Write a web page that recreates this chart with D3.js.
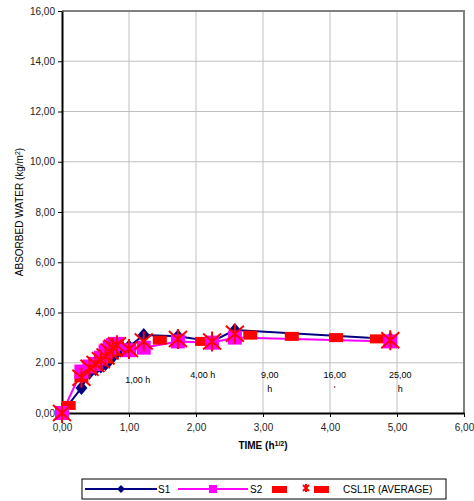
<!DOCTYPE html>
<html>
<head>
<script src="https://d3js.org/d3.v7.min.js"></script>
<style>
body { margin: 0; background: #fff; }
svg { font-family: "Liberation Sans", Arial, sans-serif; }
</style>
</head>
<body>
<svg width="474" height="501"></svg>
<script>
// values, x = sqrt(time in hours)
var xTicks = [0, 1, 2, 3, 4, 5, 6];
var yTicks = [0, 2, 4, 6, 8, 10, 12, 14, 16];

var s1X = [0, 0.29, 0.41, 0.5, 0.58, 0.65, 0.71, 0.76, 0.82, 1.0, 1.22, 1.73, 2.24, 2.58, 4.9];
var s1Y = [0, 1.0, 1.6, 1.75, 1.85, 1.95, 2.1, 2.25, 2.4, 2.65, 3.1, 3.05, 2.85, 3.3, 2.95];

var s2X = [0, 0.29, 0.41, 0.5, 0.58, 0.65, 0.71, 0.76, 0.82, 1.0, 1.22, 1.73, 2.24, 2.58, 4.9];
var s2Y = [0, 1.65, 1.85, 1.95, 2.2, 2.45, 2.6, 2.7, 2.75, 2.5, 2.6, 2.85, 2.8, 3.0, 2.85];

var avgBoxX = [0.1, 0.29, 0.5, 0.65, 0.76, 1.46, 2.09, 2.81, 3.43, 4.09, 4.70];
var avgBoxY = [0.3, 1.4, 1.85, 2.15, 2.45, 2.9, 2.85, 3.1, 3.05, 3.0, 2.95];

var avgCrossX = [0, 0.29, 0.41, 0.5, 0.58, 0.65, 0.71, 0.76, 0.82, 1.0, 1.22, 1.73, 2.24, 2.58, 4.9];
var avgCrossY = [0, 1.4, 1.8, 1.95, 2.1, 2.25, 2.45, 2.6, 2.7, 2.55, 2.85, 2.95, 2.85, 3.15, 2.9];

// time labels inside the plot
var timeLabels = [
  {x: 1.13, y: 1.2, lines: ["1,00 h"]},
  {x: 2.1, y: 1.38, lines: ["4,00 h"]},
  {x: 3.1, y: 1.38, lines: ["9,00", "h"]},
  {x: 4.07, y: 1.38, lines: ["16,00", "'"]},
  {x: 5.05, y: 1.38, lines: ["25,00", "h"]}
];

var fmt = function(d) { return d3.format(".2f")(d).replace(".", ","); };
var zip = function(xs, ys) { return xs.map(function(x, i) { return [x, ys[i]]; }); };

var svg = d3.select("svg");
var pLeft = 62, pRight = 464, pTop = 11, pBottom = 413;

var x = d3.scaleLinear().domain([0, 6]).range([pLeft, pRight]);
var y = d3.scaleLinear().domain([0, 16]).range([pBottom, pTop]);

// grid
svg.append("g").selectAll("line").data(xTicks.slice(1, -1)).enter().append("line")
  .attr("x1", function(d) { return x(d); }).attr("x2", function(d) { return x(d); })
  .attr("y1", pTop).attr("y2", pBottom)
  .attr("stroke", "#c0c0c0").attr("stroke-width", 1);
svg.append("g").selectAll("line").data(yTicks.slice(1, -1)).enter().append("line")
  .attr("y1", function(d) { return y(d); }).attr("y2", function(d) { return y(d); })
  .attr("x1", pLeft).attr("x2", pRight)
  .attr("stroke", "#c0c0c0").attr("stroke-width", 1);

// top / right border
svg.append("path")
  .attr("d", "M" + pLeft + "," + pTop + "H" + pRight + "V" + pBottom)
  .attr("fill", "none").attr("stroke", "#808080").attr("stroke-width", 2);

// axes
var xAxis = svg.append("g").attr("transform", "translate(0," + pBottom + ")")
  .call(d3.axisBottom(x).tickValues(xTicks).tickFormat(fmt).tickSize(4).tickSizeOuter(0));
var yAxis = svg.append("g").attr("transform", "translate(" + pLeft + ",0)")
  .call(d3.axisLeft(y).tickValues(yTicks).tickFormat(fmt).tickSize(4).tickSizeOuter(0));
[xAxis, yAxis].forEach(function(a) {
  a.select(".domain").attr("stroke", "#000").attr("stroke-width", 2);
  a.selectAll(".tick line").attr("stroke", "#000");
  a.selectAll("text").attr("font-size", 10).attr("fill", "#222")
    .attr("font-family", "Liberation Sans, Arial, sans-serif");
});
xAxis.selectAll("text").attr("dy", "1.05em");

// axis titles
var xt = svg.append("text").attr("x", 263).attr("y", 449).attr("text-anchor", "middle")
  .attr("font-size", 10).attr("font-weight", "bold");
xt.append("tspan").text("TIME (h");
xt.append("tspan").attr("baseline-shift", "super").attr("font-size", 7).text("1/2");
xt.append("tspan").text(")");

var yt = svg.append("text").attr("transform", "translate(23,212)rotate(-90)")
  .attr("text-anchor", "middle").attr("font-size", 10);
yt.append("tspan").text("ABSORBED WATER (kg/m");
yt.append("tspan").attr("baseline-shift", "super").attr("font-size", 7).text("2");
yt.append("tspan").text(")");

// time labels
timeLabels.forEach(function(t) {
  var tx = svg.append("text").attr("text-anchor", "middle").attr("font-size", 9)
    .attr("x", x(t.x)).attr("y", y(t.y));
  t.lines.forEach(function(l, i) {
    tx.append("tspan").attr("x", x(t.x)).attr("dy", i ? 14 : 0).text(l);
  });
});

var line = d3.line().x(function(d) { return x(d[0]); }).y(function(d) { return y(d[1]); });

// S1
var s1 = zip(s1X, s1Y);
svg.append("path").datum(s1).attr("d", line).attr("fill", "none")
  .attr("stroke", "#000080").attr("stroke-width", 2);
svg.append("g").selectAll("path").data(s1).enter().append("path")
  .attr("transform", function(d) { return "translate(" + x(d[0]) + "," + y(d[1]) + ")"; })
  .attr("d", "M0,-7L6,0L0,7L-6,0Z").attr("fill", "#000080");

// S2 line
var s2 = zip(s2X, s2Y);
svg.append("path").datum(s2).attr("d", line).attr("fill", "none")
  .attr("stroke", "#ff00ff").attr("stroke-width", 2);

// CSL1R average boxes (under S2 markers)
svg.append("g").selectAll("rect").data(zip(avgBoxX, avgBoxY)).enter().append("rect")
  .attr("x", function(d) { return x(d[0]) - 7; }).attr("y", function(d) { return y(d[1]) - 4.5; })
  .attr("width", 14).attr("height", 9).attr("fill", "#ff0000");

// S2 markers
svg.append("g").selectAll("rect").data(s2).enter().append("rect")
  .attr("x", function(d) { return x(d[0]) - 7; }).attr("y", function(d) { return y(d[1]) - 7; })
  .attr("width", 14).attr("height", 14).attr("fill", "#ff00ff");

// CSL1R average crosses
svg.append("g").selectAll("path").data(zip(avgCrossX, avgCrossY)).enter().append("path")
  .attr("transform", function(d) { return "translate(" + x(d[0]) + "," + y(d[1]) + ")"; })
  .attr("d", "M-9,-8L9,8M9,-8L-9,8M0,-10V10")
  .attr("stroke", "#ff0000").attr("stroke-width", 2).attr("fill", "none");

// legend
var lg = svg.append("g");
lg.append("rect").attr("x", 82).attr("y", 479).attr("width", 364).attr("height", 20)
  .attr("fill", "#fff").attr("stroke", "#000").attr("stroke-width", 1);
var ly = 489;
lg.append("line").attr("x1", 85).attr("x2", 157).attr("y1", ly).attr("y2", ly)
  .attr("stroke", "#000080").attr("stroke-width", 2);
lg.append("path").attr("transform", "translate(121," + ly + ")")
  .attr("d", "M0,-4L4,0L0,4L-4,0Z").attr("fill", "#000080");
lg.append("text").attr("x", 158).attr("y", ly + 4).attr("font-size", 10).text("S1");
lg.append("line").attr("x1", 178).attr("x2", 248).attr("y1", ly).attr("y2", ly)
  .attr("stroke", "#ff00ff").attr("stroke-width", 2);
lg.append("rect").attr("x", 209).attr("y", ly - 4).attr("width", 8).attr("height", 8).attr("fill", "#ff00ff");
lg.append("text").attr("x", 250).attr("y", ly + 4).attr("font-size", 10).text("S2");
lg.append("rect").attr("x", 272).attr("y", ly - 3).attr("width", 15).attr("height", 7).attr("fill", "#ff0000");
lg.append("path").attr("transform", "translate(306," + (ly - 1) + ")")
  .attr("d", "M-3,-3L3,3M3,-3L-3,3M0,-4V4").attr("stroke", "#ff0000").attr("stroke-width", 2);
lg.append("rect").attr("x", 314).attr("y", ly - 3).attr("width", 15).attr("height", 7).attr("fill", "#ff0000");
lg.append("text").attr("x", 343).attr("y", ly + 4).attr("font-size", 10).text("CSL1R (AVERAGE)");
</script>
</body>
</html>
